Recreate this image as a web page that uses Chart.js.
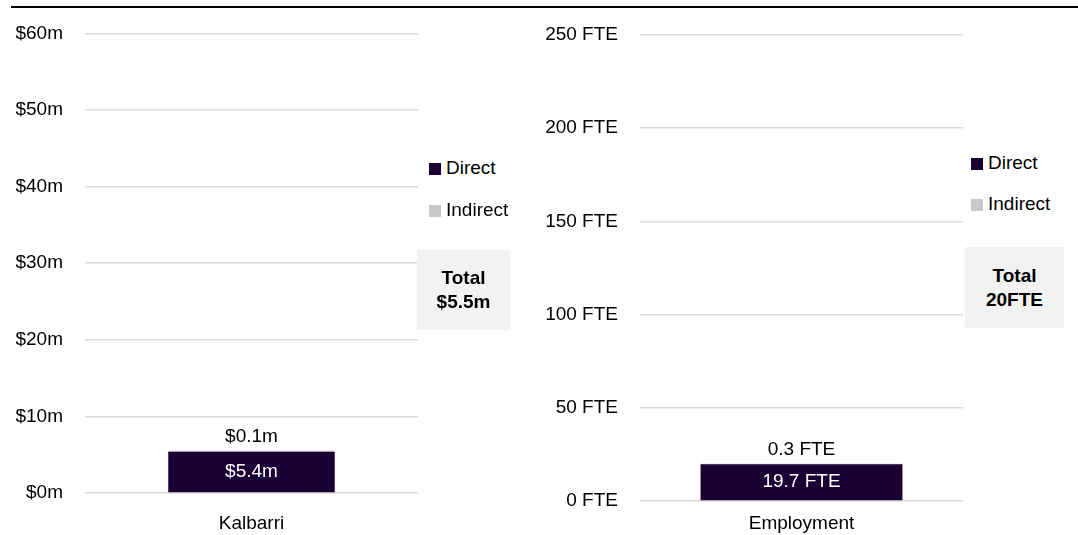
<!DOCTYPE html>
<html>
<head>
<meta charset="utf-8">
<script src="https://cdn.jsdelivr.net/npm/chart.js@4/dist/chart.umd.min.js"></script>
<style>
  html, body { margin: 0; padding: 0; background: #fff; }
  body { width: 1078px; height: 535px; position: relative; overflow: hidden;
         font-family: "Liberation Sans", Arial, sans-serif; color: #000; }
  .topline { position: absolute; left: 11px; right: 0; top: 6px; height: 2px; background: #000; }
  .wrap { position: absolute; top: 0; height: 535px; }
  .leg { position: absolute; font-size: 19px; line-height: 22px; white-space: nowrap; }
  .leg span.sq { display: inline-block; width: 12px; height: 12px; margin-right: 5px; vertical-align: -1px; }
  .total { position: absolute; background: #f2f2f2; font-weight: bold; font-size: 19px;
           line-height: 24px; text-align: center; display: flex; align-items: center; justify-content: center; }
</style>
</head>
<body>
<div class="topline"></div>
<div class="wrap" style="left:0;width:418px"><canvas id="c1" width="418" height="535"></canvas></div>
<div class="wrap" style="left:540px;width:423px"><canvas id="c2" width="423" height="535"></canvas></div>

<div class="leg" style="left:429px;top:157px"><span class="sq" style="background:#1a0033"></span>Direct</div>
<div class="leg" style="left:429px;top:199px"><span class="sq" style="background:#c8c8c8"></span>Indirect</div>
<div class="total" style="left:417px;top:250px;width:93px;height:80px">Total<br>$5.5m</div>

<div class="leg" style="left:971px;top:152px"><span class="sq" style="background:#1a0033"></span>Direct</div>
<div class="leg" style="left:971px;top:193px"><span class="sq" style="background:#c8c8c8"></span>Indirect</div>
<div class="total" style="left:965px;top:247px;width:99px;height:81px">Total<br>20FTE</div>

<script>
// ---- data ----
const econCategories = ["Kalbarri"];
const econDirect = [5.4];
const econIndirect = [0.1];
const econTicks = [0, 10, 20, 30, 40, 50, 60];

const empCategories = ["Employment"];
const empDirect = [19.7];
const empIndirect = [0.3];
const empTicks = [0, 50, 100, 150, 200, 250];

const seriesNames = ["Direct", "Indirect"];
const DIRECT_COLOR = "#1a0033";
const INDIRECT_COLOR = "#c8c8c8";
const FONT = "'Liberation Sans', Arial, sans-serif";

Chart.defaults.font.family = FONT;
Chart.defaults.font.size = 19;
Chart.defaults.color = "#000";

function labelPlugin(fmt) {
  return {
    id: "barLabels",
    afterDatasetsDraw(chart) {
      const ctx = chart.ctx;
      ctx.save();
      ctx.font = "19px " + FONT;
      ctx.textAlign = "center";
      ctx.textBaseline = "middle";
      const mDirect = chart.getDatasetMeta(0);
      const mIndirect = chart.getDatasetMeta(1);
      mDirect.data.forEach((el, i) => {
        const v = chart.data.datasets[0].data[i];
        ctx.fillStyle = "#fff";
        ctx.fillText(fmt(v), el.x, (el.y + el.base) / 2);
      });
      mIndirect.data.forEach((el, i) => {
        const v = chart.data.datasets[1].data[i];
        ctx.fillStyle = "#000";
        ctx.fillText(fmt(v), el.x, el.y - 14);
      });
      ctx.restore();
    }
  };
}

function makeChart(id, cats, direct, indirect, ticks, tickFmt, valFmt, opts) {
  return new Chart(document.getElementById(id), {
    type: "bar",
    data: {
      labels: cats,
      datasets: [
        { label: seriesNames[0], data: direct, backgroundColor: DIRECT_COLOR,
          barPercentage: opts.barPct, categoryPercentage: 1 },
        { label: seriesNames[1], data: indirect, backgroundColor: INDIRECT_COLOR,
          barPercentage: opts.barPct, categoryPercentage: 1 }
      ]
    },
    options: {
      responsive: false,
      animation: false,
      devicePixelRatio: 1,
      layout: { padding: { top: opts.top, right: 0, bottom: 0, left: 0 } },
      plugins: { legend: { display: false }, tooltip: { enabled: false } },
      scales: {
        x: {
          stacked: true,
          grid: { display: false, drawTicks: false },
          border: { display: false },
          ticks: { padding: opts.xPad, font: { size: 19 }, color: "#000" },
          afterFit(s) { s.height = opts.xHeight; }
        },
        y: {
          stacked: true,
          min: ticks[0],
          max: ticks[ticks.length - 1],
          afterBuildTicks(s) { s.ticks = ticks.map(v => ({ value: v })); },
          grid: { color: "#d9d9d9", lineWidth: 1.5, drawTicks: false },
          border: { display: false },
          ticks: { padding: 22, font: { size: 19 }, color: "#000", callback: tickFmt },
          afterFit(s) { s.width = opts.yWidth; }
        }
      }
    },
    plugins: [labelPlugin(valFmt)]
  });
}

makeChart("c1", econCategories, econDirect, econIndirect, econTicks,
  v => "$" + v + "m", v => "$" + v + "m",
  { barPct: 0.5, top: 32, xHeight: 42, xPad: 19, yWidth: 85 });

makeChart("c2", empCategories, empDirect, empIndirect, empTicks,
  v => v + " FTE", v => v + " FTE",
  { barPct: 0.625, top: 35, xHeight: 34, xPad: 11, yWidth: 100 });
</script>
</body>
</html>
